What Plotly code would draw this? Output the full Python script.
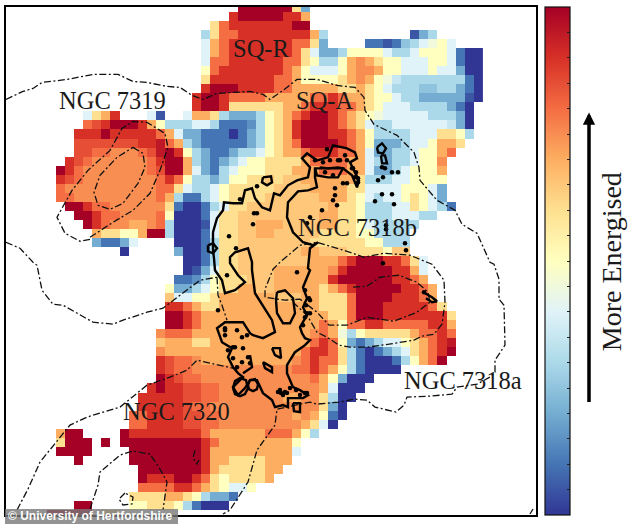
import numpy as np
import plotly.graph_objects as go

# Ionised-gas map: level per cell; digits 0-9 and a = 0..10, capitals = half steps
HALF_STEPS = "ABCDEFGHIJ"
ROW_START = [20, 19, 17, 16, 16, 16, 16, 16, 16, 16, 15, 15, 3, 3, 2, 2, 2, 1, 0, 0, 0, 0, 1, 2, 3, 4, 4, 7, 14,
             14, 13, 12, 12, 12, 12, 12, 11, 11, 11, 11, 11, 11, 10, 9, 9, 8, 8, 0, 0, 0, 2, 9, 9, 9, 8, 2, -1]
ROW_LEVELS = [
    "aaaaaa62",
    "9aaaaa997",
    "689999999aa",
    "36889999999973.........A23",
    "47899999998862....11A1C34E54",
    "4789999999864223555543345554100",
    "4889999998" "8653357H76" "5544455410" "0",
    "5899999998" "7544457HH7" "5544454420" "0",
    "6999999988" "7555567H75" "ED33333331" "0",
    "9aaa999988" "7777766765" "4333CC3321" "0",
    "9aa9888877" "7778898776" "5543322222" "A0",
    "9aa9666666" "7789998876" "5444333321" "0",
    "4679...4A..4776322235" "6789aa9876" "5E44444333" "20",
    "8I9aaa9753" "33443111B3" "5679aaa987" "6433444444" "D20",
    "999a999998" "7422111012" "35679aaa99" "8753333444" "6653",
    "IIIIIII99J" "8732111112" "35678aaaa9" "8752223445" "776",
    "II88HHH8IJ" "a953211233" "4567789998" "8742233455" "78",
    "9I8HHHHHH8" "9aa7321234" "5566667888" "8774323345" "5H",
    "a98HHHHHHH" "8Iaa742134" "5556667778" "8877422345" "557",
    "9I8HHHHHHH" "H898533235" "566G6GG777" "7776333445" "555",
    "8HHHHHHHHH" "H886433456" "6666GGGG77" "7766444455" "542",
    "88HHHHHHHH" "H873113456" "666GGGGGG7" "7765434456" "542",
    "aa988HHHHH" "H610013466" "GGGGGGGGG7" "6653334465" "431",
    "aa988HHHH8" "50001466GG" "GGGGGGG776" "6533344433",
    "a98HH77H83" "000A466GG7" "77GGGG7766" "5433333",
    "766557aa30" "001466GG77" "GGGGG66665" "53333",
    "21124" "...." "0001366GGG" "GGGGG66666" "655333",
    "0" "....." "2001366GGG" "GGGG77GGG6" "6665GG",
    "001366GGGG" "GGGG77789a" "aa99864",
    "0A2466GGGG" "777777H9aa" "aaa9974",
    "11B35666GG" "G7777779aa" "aaaa9987",
    "5223456677" "GG77777678" "9aaaaa9987",
    "G445567777" "77GGG77666" "8aaaa99987",
    "9987667777" "7777777666" "8aaa999998" "6",
    "aa98777777" "7777777766" "8aaa999999" "96",
    "aa98777777" "7777777875" "8899888889" "97",
    "H888777777" "7777777H87" "E356666678" "898",
    "G777667777" "7777777898" "5212344567" "89J",
    "H777777777" "7777778998" "6310123467" "89a",
    "9I88H77777" "77777H8988" "6310001357" "8a",
    "9I88HHHHHH" "HHHHH88987" "5310000",
    "a9I88HHHHH" "HHHHHHH875" "2000",
    "9a99II88HH" "HHHHHHHHH7" "4000",
    "99999II88H" "HHHHHH77HH" "6300",
    "99999I88HH" "HHHHHHHHHH" "620",
    "889999II88" "HHHHHHHH7H" "7510",
    "889999II88" "HHHHHHHHH7" "640",
    "7aa....a99" "9999998777" "777888753",
    "6aaa.a.aaa" "aaaaaa9877" "7777775",
    "aaaa....aa" "aaaaaa9777" "7777774",
    "a.....aa" "aaaaaa9776" "666777",
    "aaaaaaa976" "666677",
    "a999aa9865" "66667",
    "8888998765" "445",
    "666677653221",
    "aa....55" "666531000",
    "aaaaa.66",
]

COLOR_STOPS = ["#313695", "#4575b4", "#74add1", "#abd9e9", "#e0f3f8", "#ffffbf",
               "#fee090", "#fdae61", "#f46d43", "#d73027", "#a50026"]

# Dash-dot contours (sky coordinates)
ENVELOPE_TOP = [(6, 99), (23, 91), (33, 88), (42, 82), (67, 79), (93, 74), (118, 74), (133, 81), (147, 82), (167, 86),
                (180, 87), (192, 95), (203, 99), (217, 93), (250, 91), (263, 94), (270, 99), (283, 90), (297, 79),
                (317, 79), (337, 85), (355, 87), (364, 97), (365, 110), (374, 124), (397, 135), (414, 152), (419, 167),
                (420, 180), (437, 200), (455, 210), (462, 224), (477, 233), (490, 262), (494, 264), (499, 279),
                (499, 299), (504, 305), (505, 345), (495, 360), (495, 372), (490, 377), (477, 384), (457, 387),
                (452, 394), (430, 396), (407, 397), (404, 405), (396, 412), (375, 407), (367, 400), (354, 399),
                (339, 402), (317, 404), (310, 402), (277, 409), (275, 425), (257, 450), (248, 482), (230, 510),
                (223, 514)]
ENVELOPE_LEFT = [(17, 510), (28, 489), (40, 462), (70, 425), (87, 417), (120, 407), (147, 385), (170, 377), (187, 370),
                 (197, 360), (237, 369)]
ENVELOPE_MID = [(6, 242), (20, 248), (33, 262), (37, 265), (42, 290), (53, 304), (63, 305), (93, 322), (113, 324),
                (123, 320), (147, 312), (163, 308), (180, 295), (200, 280), (217, 277)]
ENVELOPE_STUB = [(217, 277), (218, 295), (222, 305), (227, 320)]
CORNER_STUB = [(530, 514), (533, 509)]
N7320_INNER = [(90, 509), (98, 485), (100, 472), (120, 455), (133, 451), (150, 454), (160, 469), (167, 482), (163, 510)]
N7320_LOOP = [(125, 493), (119, 499), (123, 505), (132, 504), (133, 497), (125, 493)]
N7320_CORE = [(195, 450), (193, 458), (197, 464), (199, 460)]
N7319_OUTER = [(90, 237), (113, 222), (133, 210), (150, 193), (160, 170), (168, 147), (165, 133), (147, 122), (133, 121),
               (122, 128), (110, 150), (88, 170), (72, 190), (63, 207), (57, 217), (65, 233), (80, 241), (90, 239)]
N7319_INNER = [(133, 147), (143, 153), (145, 167), (138, 183), (123, 203), (110, 209), (98, 205), (94, 192), (100, 175),
               (117, 157), (133, 147)]
N7318_OUTER = [(265, 297), (265, 289), (273, 269), (280, 262), (300, 245), (317, 242), (350, 252), (364, 257), (384, 253),
               (410, 255), (427, 262), (432, 264), (444, 280), (445, 302), (442, 324), (434, 334), (422, 336), (414, 340),
               (389, 344), (367, 347), (350, 347), (339, 345), (327, 337), (317, 332), (307, 315), (293, 302)]
N7318_INNER = [(353, 287), (367, 286), (380, 277), (399, 275), (417, 282), (428, 292), (430, 302), (417, 312), (394, 321),
               (367, 317), (347, 325), (329, 325), (317, 312), (300, 299), (285, 300), (265, 297)]
DASHED = [ENVELOPE_TOP, ENVELOPE_LEFT, ENVELOPE_MID, ENVELOPE_STUB, CORNER_STUB, N7320_INNER, N7320_LOOP, N7320_CORE,
          N7319_OUTER, N7319_INNER, N7318_OUTER, N7318_INNER]

# Thick solid contours
SHOCK_MAIN = [(213, 232), (217, 218), (223, 210), (224, 202), (233, 203), (242, 203), (245, 190), (252, 188), (255, 198),
              (262, 207), (270, 210), (274, 193), (280, 195), (288, 185), (297, 180), (308, 177), (310, 167), (302, 158),
              (307, 153), (317, 160), (328, 157), (333, 145), (347, 148), (355, 152), (357, 158), (350, 162), (355, 172),
              (359, 180), (357, 187), (352, 175), (343, 168), (328, 168), (315, 168), (315, 177), (317, 187), (308, 190),
              (298, 191), (288, 202), (287, 217), (293, 232), (303, 242), (313, 245), (318, 242), (310, 248), (308, 268),
              (310, 270), (303, 287), (307, 298), (303, 307), (307, 315), (300, 327), (302, 333), (305, 338), (310, 340),
              (305, 345), (295, 352), (287, 365), (287, 373), (293, 387), (300, 390), (308, 395), (303, 398), (288, 398),
              (288, 407), (283, 405), (275, 407), (272, 400), (263, 393), (258, 383), (257, 380), (250, 380), (245, 388),
              (238, 395), (233, 387), (243, 377), (238, 373), (233, 367), (228, 357), (232, 348), (222, 342), (217, 328),
              (225, 322), (233, 322), (243, 322), (250, 333), (253, 335), (263, 338), (275, 332), (272, 320), (255, 293),
              (252, 270), (252, 262), (248, 248), (240, 250), (235, 252), (230, 257), (230, 263), (238, 275), (245, 282),
              (235, 290), (225, 293), (222, 280), (215, 270), (214, 258), (213, 250), (213, 232)]
SHOCK_HOLE = [(277, 292), (285, 290), (293, 298), (295, 313), (290, 323), (283, 323), (277, 313), (276, 300), (277, 292)]
SHOCK_BLOB_A = [(272, 348), (280, 348), (281, 358), (275, 355), (272, 348)]
SHOCK_BLOB_B = [(263, 362), (272, 367), (272, 372), (265, 368), (263, 362)]
SHOCK_BLOB_C = [(293, 403), (300, 403), (300, 412), (294, 411), (293, 403)]
SHOCK_RING_A = [(263, 177), (271, 176), (272, 182), (267, 185), (262, 182), (263, 177)]
SHOCK_RING_B = [(377, 147), (382, 143), (386, 148), (383, 153), (378, 152), (377, 147)]
SHOCK_RING_C = [(381, 155), (385, 155), (387, 163), (382, 163), (381, 155)]
SHOCK_RING_D = [(208, 245), (213, 243), (217, 248), (213, 253), (208, 251), (208, 245)]
SHOCK_BOX = [(315, 168), (317, 175), (328, 177), (338, 177), (343, 168), (338, 167), (328, 168), (320, 167)]
SHOCK_LOBE_A = [(233, 388), (235, 381), (240, 378), (246, 380), (248, 388), (245, 394), (240, 396), (235, 394), (233, 388)]
SHOCK_LOBE_B = [(248, 385), (250, 380), (255, 379), (258, 384), (257, 389), (253, 391), (249, 389), (248, 385)]
SHOCK_CLUMP = [(250, 355), (252, 367), (243, 373)]
SHOCK_A_BLOB = [(425, 293), (432, 297), (437, 301), (432, 302), (426, 298)]
SOLID = [SHOCK_MAIN, SHOCK_HOLE, SHOCK_BLOB_A, SHOCK_BLOB_B, SHOCK_BLOB_C, SHOCK_RING_A, SHOCK_RING_B, SHOCK_RING_C,
         SHOCK_RING_D, SHOCK_BOX, SHOCK_LOBE_A, SHOCK_LOBE_B, SHOCK_CLUMP, SHOCK_A_BLOB]
SHOCK_DOTS = [(327, 149), (240, 199), (257, 186), (257, 213), (254, 213), (253, 224), (229, 236), (236, 248), (333, 175),
              (335, 188), (335, 195), (333, 200), (337, 205), (322, 210), (310, 217), (307, 223), (382, 167), (385, 168),
              (392, 172), (398, 172), (383, 177), (378, 180), (382, 194), (392, 194), (375, 201), (394, 204), (386, 225),
              (386, 229), (405, 243), (406, 250), (383, 263), (343, 183), (347, 183), (218, 310), (297, 272), (310, 300),
              (307, 313), (227, 275), (424, 292), (347, 160), (352, 168), (355, 177), (358, 182), (225, 330), (237, 330),
              (233, 347), (243, 348), (287, 393), (281, 393), (307, 393), (345, 155), (340, 160), (325, 172), (303, 325),
              (315, 160), (323, 162), (330, 160), (338, 160), (353, 168), (356, 172), (358, 178),
              (225, 328), (225, 335), (242, 337), (247, 335), (235, 347), (228, 350), (233, 358), (242, 362), (237, 367),
              (248, 357), (250, 363), (280, 390), (285, 392), (290, 388), (296, 390), (300, 395), (305, 393), (283, 395),
              (278, 392), (305, 290), (309, 298), (306, 305), (310, 313), (305, 317)]

LABEL_TEXTS = ["SQ-R", "SQ-A", "NGC 7319", "NGC 7318b", "NGC 7318a", "NGC 7320"]
LABEL_X = [261, 324.5, 112, 357, 463, 176]
LABEL_Y = [48, 100, 100, 227, 380, 411]

# Decode the grid
n_rows = len(ROW_LEVELS)
n_cols = 48
grid = np.full((n_rows, n_cols), np.nan)
for r, (start, row) in enumerate(zip(ROW_START, ROW_LEVELS)):
    for i, ch in enumerate(row):
        if ch == ".":
            continue
        if ch in HALF_STEPS:
            level = HALF_STEPS.index(ch) + 0.5
        else:
            level = int(ch, 16)
        grid[r, start + 1 + i] = level

CELL = 9.085
L, R, T, B = 6.0, 536.0, 6.5, 515.0
W, H = 634, 524


def px(x):
    return (x - L) / (R - L)


def py(y):
    return (B - y) / (B - T)


colorscale = [[i / 10, c] for i, c in enumerate(COLOR_STOPS)]
fig = go.Figure()
fig.add_trace(go.Heatmap(
    z=grid, x0=56 - CELL / 2, dx=CELL, y0=2 + CELL / 2, dy=CELL,
    colorscale=colorscale, zmin=0, zmax=10, hoverongaps=False,
    colorbar=dict(x=px(544.5), xanchor="left", y=0.5, yanchor="middle", lenmode="pixels", len=508,
                  thicknessmode="pixels", thickness=25, xpad=0, ypad=0, outlinecolor="#111", outlinewidth=1.2,
                  ticks="inside", ticklen=3, tickwidth=1, tickcolor="#222", dtick=0.5, showticklabels=False),
))
for path in DASHED:
    xs, ys = zip(*path)
    fig.add_trace(go.Scatter(x=xs, y=ys, mode="lines", showlegend=False, hoverinfo="skip",
                             line=dict(color="#111", width=1.3, dash="7px,2.5px,2px,2.5px")))
for path in SOLID:
    xs, ys = zip(*path)
    fig.add_trace(go.Scatter(x=xs, y=ys, mode="lines", showlegend=False, hoverinfo="skip",
                             line=dict(color="black", width=2.4)))
xs, ys = zip(*SHOCK_DOTS)
fig.add_trace(go.Scatter(x=xs, y=ys, mode="markers", showlegend=False, hoverinfo="skip",
                         marker=dict(color="black", size=4.5)))

annotations = []
for t, x, y in zip(LABEL_TEXTS, LABEL_X, LABEL_Y):
    annotations.append(dict(text=t, x=x, y=y, xref="x", yref="y", showarrow=False, xanchor="center", yanchor="middle",
                            font=dict(family="Liberation Serif", size=24.5, color="#1a1a1a")))
annotations.append(dict(text="More Energised", x=px(611), y=py(262), xref="paper", yref="paper", showarrow=False,
                        textangle=-90, xanchor="center", yanchor="middle",
                        font=dict(family="Liberation Serif", size=28, color="#1a1a1a")))
annotations.append(dict(text="", x=px(589), y=py(112), ax=0, ay=291, xref="paper", yref="paper",
                        axref="pixel", ayref="pixel", showarrow=True, arrowhead=2, arrowsize=0.7, arrowwidth=3.5,
                        arrowcolor="black"))
annotations.append(dict(text="© University of Hertfordshire", x=px(6), y=py(516.5), xref="paper", yref="paper",
                        showarrow=False, xanchor="left", yanchor="middle",
                        font=dict(family="Liberation Sans", size=12, color="white", weight="bold")))

fig.update_layout(
    width=W, height=H, margin=dict(l=L, r=W - R, t=T, b=H - B, autoexpand=False, pad=0),
    paper_bgcolor="white", plot_bgcolor="white", annotations=annotations,
    xaxis=dict(range=[L, R], visible=True, showgrid=False, zeroline=False, showticklabels=False, ticks="",
               showline=True, mirror=True, linecolor="black", linewidth=1.5),
    yaxis=dict(range=[B, T], visible=True, showgrid=False, zeroline=False, showticklabels=False, ticks="",
               showline=True, mirror=True, linecolor="black", linewidth=1.5),
    shapes=[dict(type="rect", xref="paper", yref="paper", x0=px(5), x1=px(178), y0=py(509), y1=py(524),
                 line=dict(width=0), fillcolor="rgba(120,120,120,0.8)", layer="above")],
)
fig.write_html("out.html", config={"displayModeBar": False},
               post_script="document.body.style.margin='0';document.documentElement.style.overflow='hidden';")
